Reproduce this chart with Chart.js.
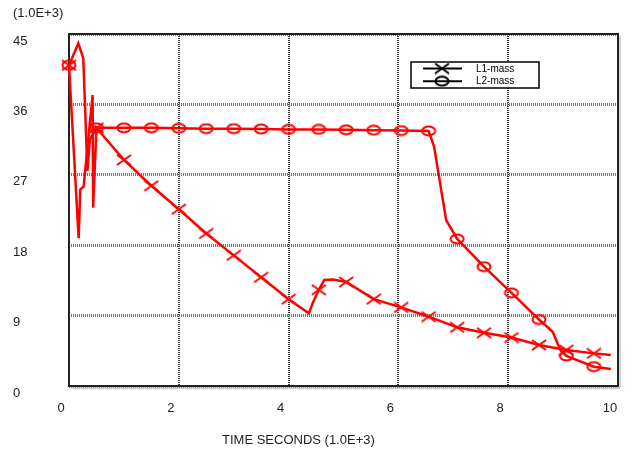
<!DOCTYPE html>
<html>
<head>
<meta charset="utf-8">
<script src="https://cdn.jsdelivr.net/npm/chart.js@4.4.0/dist/chart.umd.min.js"></script>
<style>
  html, body { margin: 0; background: #fff; }
  #wrap { width: 634px; height: 450px; }
</style>
</head>
<body>
<div id="wrap"><canvas id="massChart"></canvas></div>
<script>
// muestras con marcador (tiempo en 1.0E+3 s, masa en 1.0E+3)
const markTime = [0, 0.5, 1.0, 1.5, 2.0, 2.5, 3.0, 3.5, 4.0, 4.55, 5.05, 5.55, 6.05, 6.55, 7.07, 7.56, 8.06, 8.56, 9.06, 9.56];
const l1Mark = [41, 33.0, 28.9, 25.6, 22.6, 19.5, 16.7, 13.9, 11.1, 12.3, 13.3, 11.1, 10.05, 8.86, 7.5, 6.8, 6.2, 5.24, 4.6, 4.17];
const l2Mark = [41, 33.0, 33.0, 33.0, 32.95, 32.9, 32.9, 32.85, 32.8, 32.8, 32.75, 32.7, 32.65, 32.6, 18.8, 15.25, 11.9, 8.5, 3.84, 2.47];

// puntos intermedios de la curva (sin marcador)
const l1BendTime = [0.176, 0.205, 0.267, 0.345, 0.43, 0.44, 4.37, 4.44, 4.65, 4.81, 9.87];
const l1Bend = [18.9, 25.1, 25.5, 31.1, 37.2, 22.8, 9.3, 10.6, 13.55, 13.6, 3.96];
const l2BendTime = [0.17, 0.26, 0.335, 0.38, 6.65, 6.87, 8.81, 8.95, 9.87];
const l2Bend = [43.8, 41.9, 27.5, 31.5, 30.6, 21.2, 6.94, 4.6, 2.17];

const xTicks = [0, 2, 4, 6, 8, 10];
const yTicks = [0, 9, 18, 27, 36, 45];
const seriesNames = ["L1-mass", "L2-mass"];

const RED = "#ff0000";
const FONT = "'Liberation Sans', Arial, sans-serif";

function toPoints(xs, ys) {
    return xs.map((x, i) => ({ x, y: ys[i] }));
}
function trace(mt, mv, bt, bv) {
    return toPoints(mt, mv).concat(toPoints(bt, bv)).sort((a, b) => a.x - b.x);
}

// marcadores dibujados en un canvas propio: óvalo y aspa
function ringMark(color) {
    const c = document.createElement("canvas");
    c.width = 16; c.height = 12;
    const g = c.getContext("2d");
    g.strokeStyle = color; g.lineWidth = 2;
    g.beginPath(); g.ellipse(8, 6, 6.5, 4.5, 0, 0, Math.PI * 2); g.stroke();
    return c;
}
function crossMark(color) {
    const c = document.createElement("canvas");
    c.width = 16; c.height = 12;
    const g = c.getContext("2d");
    g.strokeStyle = color; g.lineWidth = 2;
    g.beginPath();
    g.moveTo(1, 1); g.lineTo(15, 11);
    g.moveTo(1, 11); g.lineTo(15, 1);
    g.stroke();
    return c;
}
const redRing = ringMark(RED), redCross = crossMark(RED);
const blackRing = ringMark("#000"), blackCross = crossMark("#000");

// marco, textos de unidades y leyenda
const decor = {
    id: "decor",
    beforeDatasetsDraw(chart) {
        const { ctx, chartArea: a } = chart;
        ctx.save();
        ctx.strokeStyle = "#aaa"; ctx.lineWidth = 1;
        ctx.beginPath();
        ctx.moveTo(a.right + 2, a.top + 2); ctx.lineTo(a.right + 2, a.bottom + 2); ctx.lineTo(a.left + 2, a.bottom + 2);
        ctx.stroke();
        ctx.strokeStyle = "#222"; ctx.lineWidth = 2;
        ctx.strokeRect(a.left, a.top, a.right - a.left, a.bottom - a.top);
        ctx.restore();
    },
    afterDraw(chart) {
        const { ctx } = chart;
        ctx.save();
        ctx.fillStyle = "#222";
        ctx.font = "13px " + FONT;
        ctx.textBaseline = "middle";
        ctx.textAlign = "left";
        ctx.fillText("(1.0E+3)", 13, 13);
        ctx.fillText("TIME SECONDS (1.0E+3)", 222, 440);

        // leyenda
        const bx = 411, by = 62, bw = 128, bh = 26;
        ctx.fillStyle = "#fff";
        ctx.fillRect(bx, by, bw, bh);
        ctx.strokeStyle = "#000"; ctx.lineWidth = 1.5;
        ctx.strokeRect(bx, by, bw, bh);
        const marks = [blackCross, blackRing];
        seriesNames.forEach((name, i) => {
            const y = by + 6.5 + i * 12.7;
            ctx.strokeStyle = "#000"; ctx.lineWidth = 2;
            ctx.beginPath(); ctx.moveTo(423, y); ctx.lineTo(462, y); ctx.stroke();
            ctx.drawImage(marks[i], 442 - 8, y - 6);
            ctx.fillStyle = "#000";
            ctx.font = "10px " + FONT;
            ctx.fillText(name, 476, y + 0.5);
        });
        ctx.restore();
    }
};

new Chart(document.getElementById("massChart"), {
    type: "scatter",
    data: {
        datasets: [
            {
                label: seriesNames[0],
                data: trace(markTime, l1Mark, l1BendTime, l1Bend),
                showLine: true, borderColor: RED, borderWidth: 2.5,
                pointRadius: 0, tension: 0, clip: false,
            },
            {
                label: seriesNames[1],
                data: trace(markTime, l2Mark, l2BendTime, l2Bend),
                showLine: true, borderColor: RED, borderWidth: 2.5,
                pointRadius: 0, tension: 0, clip: false,
            },
            {
                label: seriesNames[0] + " marks",
                data: toPoints(markTime, l1Mark),
                showLine: false, pointStyle: redCross, pointRadius: 6, clip: false,
            },
            {
                label: seriesNames[1] + " marks",
                data: toPoints(markTime, l2Mark),
                showLine: false, pointStyle: redRing, pointRadius: 6, clip: false,
            },
        ],
    },
    options: {
        responsive: true,
        maintainAspectRatio: false,
        animation: false,
        layout: { padding: { left: 13, top: 34, right: 16, bottom: 0 } },
        plugins: {
            legend: { display: false },
            tooltip: { enabled: false },
        },
        scales: {
            x: {
                type: "linear",
                min: xTicks[0], max: xTicks[xTicks.length - 1],
                afterBuildTicks: s => { s.ticks = xTicks.map(v => ({ value: v })); },
                afterFit: s => { s.height = 64; },
                // el desplazamiento vertical sale del lineHeight para no ensanchar el margen derecho
                ticks: { color: "#222", font: { family: FONT, size: 13, lineHeight: 3.4 }, labelOffset: -8, padding: 0, maxRotation: 0 },
                grid: { color: "#333", lineWidth: 2, drawTicks: false },
                border: { display: false, dash: [1, 1] },
            },
            y: {
                type: "linear",
                min: yTicks[0], max: yTicks[yTicks.length - 1],
                afterBuildTicks: s => { s.ticks = yTicks.map(v => ({ value: v })); },
                afterFit: s => { s.width = 56; },
                ticks: { color: "#222", font: { family: FONT, size: 13 }, crossAlign: "far", labelOffset: 7, padding: 0 },
                grid: { color: "#777", lineWidth: 3, drawTicks: false },
                border: { display: false, dash: [1, 1] },
            },
        },
    },
    plugins: [decor],
});
</script>
</body>
</html>
